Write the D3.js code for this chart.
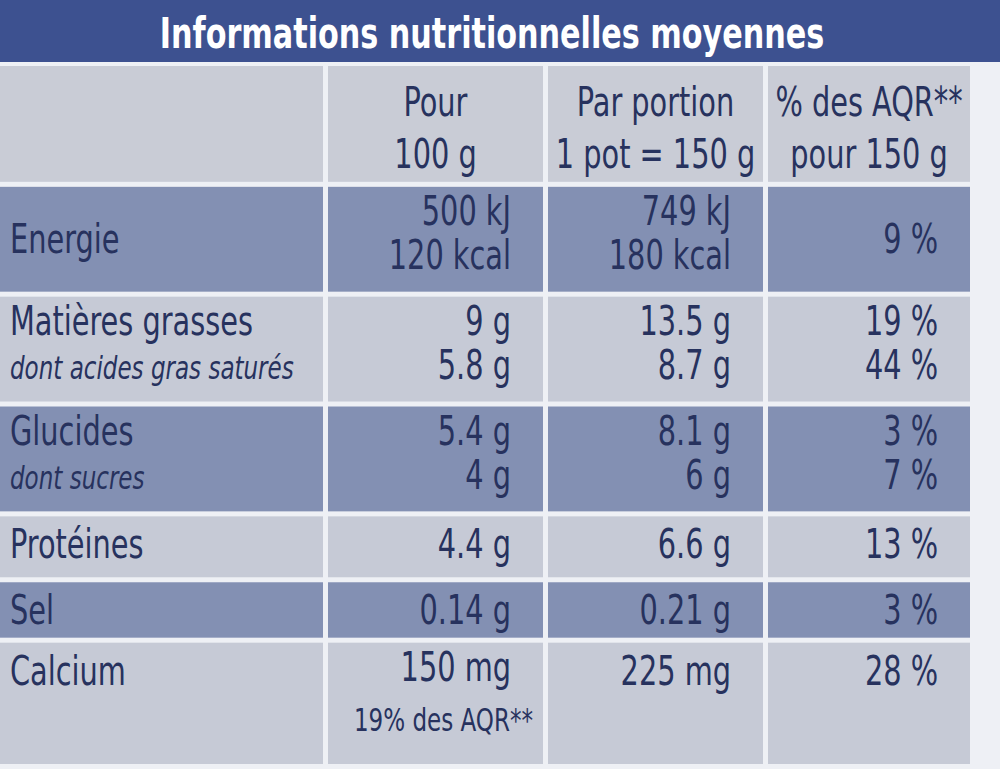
<!DOCTYPE html>
<html><head><meta charset="utf-8">
<script src="https://cdn.jsdelivr.net/npm/d3@7"></script>
<style>body{margin:0;background:#dfe2ea}</style></head>
<body><svg id="c" width="1000" height="769"></svg>
<script>
const title = "Informations nutritionnelles moyennes";
const headers = [[""],["Pour","100 g"],["Par portion","1 pot = 150 g"],["% des AQR**","pour 150 g"]];
const labels = [["Energie"],["Matières grasses","dont acides gras saturés"],["Glucides","dont sucres"],["Protéines"],["Sel"],["Calcium"]];
const per100 = [["500 kJ","120 kcal"],["9 g","5.8 g"],["5.4 g","4 g"],["4.4 g"],["0.14 g"],["150 mg","19% des AQR**"]];
const perPortion = [["749 kJ","180 kcal"],["13.5 g","8.7 g"],["8.1 g","6 g"],["6.6 g"],["0.21 g"],["225 mg"]];
const aqr = [["9 %"],["19 %","44 %"],["3 %","7 %"],["13 %"],["3 %"],["28 %"]];
const rowUnits = [2.2, 2, 2, 2, 1.2, 1.1, 2.3];

const svg = d3.select("#c");
const font = "'DejaVu Sans Condensed','Liberation Sans Narrow',sans-serif";
const navy = "#27325e";
const sx = 0.8;
svg.append("rect").attr("width",1000).attr("height",769).attr("fill","#eef0f5");
svg.append("rect").attr("x",0).attr("y",0).attr("width",1000).attr("height",62).attr("fill","#3d5190");
svg.append("text").attr("transform",`translate(492,48) scale(${sx},1)`).attr("text-anchor","middle").attr("fill","#fff")
  .attr("font-family",font).attr("font-weight","bold").attr("font-size",42).text(title);

const colEdges = [0,328,548,768,975];
const total = d3.sum(rowUnits);
const y = d3.scaleLinear().domain([0,total]).range([66,769]);
const cum = [0]; rowUnits.forEach(u=>cum.push(cum[cum.length-1]+u));
const gap = 5;
const rows = [headers].concat(labels.map((l,i)=>[l,per100[i],perPortion[i],aqr[i]]));
rows.forEach((r,ri)=>{
  const y0 = y(cum[ri]), y1 = y(cum[ri+1])-gap;
  const dark = ri%2===1;
  const fill = ri===0 ? "#c9ccd6" : (dark ? "#8390b3" : "#c6cad6");
  r.forEach((cell,ci)=>{
    const x0 = colEdges[ci], x1 = colEdges[ci+1]-gap;
    svg.append("rect").attr("x",x0).attr("y",y0).attr("width",x1-x0).attr("height",y1-y0).attr("fill",fill);
    cell.forEach((t,li)=>{
      const isSub = ri>0 && ci===0 && li===1;
      const isSmall = ri===6 && ci===1 && li===1;
      const fs = isSub ? 32 : (isSmall ? 32 : 40);
      let tx, anchor;
      if (ci===0){tx = x0+10; anchor="start";}
      else if (ri===0){tx = (x0+x1)/2; anchor="middle";}
      else {tx = x1-32; anchor="end";}
      if (isSmall){tx=x1-10;}
      let ty;
      if (ri===0) ty = y0+50+li*52;
      else if (cell.length===1 && ri<4 && ri!==3) ty = (y0+y1)/2+14;
      else if (cell.length===1) ty = y0+42;
      else ty = y0+38+li*(ri===6?50:44);
      svg.append("text").attr("transform",`translate(${tx},${ty}) scale(${sx},1)`).attr("text-anchor",anchor)
        .attr("fill",navy).attr("font-family",font).attr("font-size",fs)
        .attr("font-style",isSub?"italic":"normal").text(t);
    });
  });
});
</script></body></html>
